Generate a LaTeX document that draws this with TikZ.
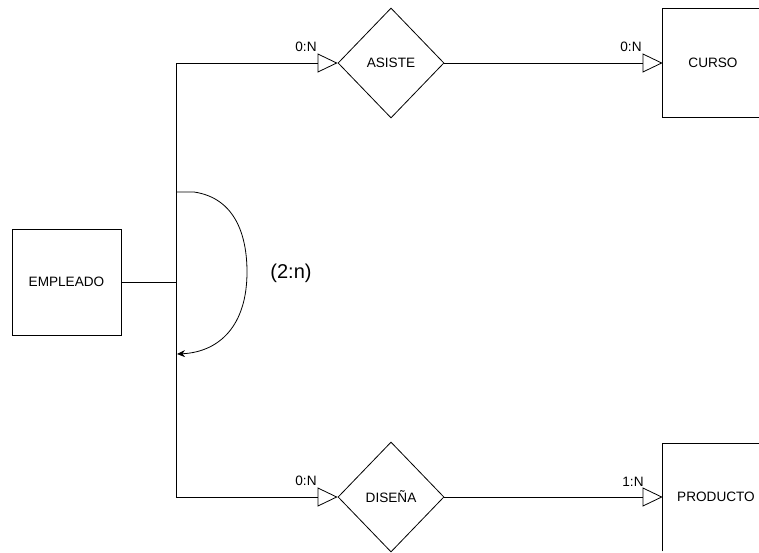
\documentclass[tikz,border=0pt]{standalone}
\usepackage{fontspec}
\setmainfont{Liberation Sans}
\usetikzlibrary{shapes.geometric,arrows.meta}

\begin{document}
\begin{tikzpicture}[x=1pt, y=-1pt, line width=.8pt,
    entidad/.style={draw, rectangle, inner sep=0pt, font=\fontsize{13.6}{16}\selectfont},
    abierta/.style={rectangle, inner sep=0pt, font=\fontsize{13.6}{16}\selectfont},
    relacion/.style={draw, diamond, inner sep=0pt, minimum width=106pt, minimum height=110pt, font=\fontsize{13.6}{16}\selectfont},
    card/.style={inner sep=0pt, font=\fontsize{13.6}{16}\selectfont},
    tri/.style={-{Triangle[open, length=20pt, width=19pt]}}]
    \useasboundingbox (0,0) rectangle (759,552);
    % entidades
    \node [entidad, minimum width=109pt, minimum height=106pt] (emp) at (66.5,282) {EMPLEADO};
    \node [abierta, minimum width=100pt, minimum height=108pt] (curso) at (713,63) {CURSO};
    \draw (curso.north east) ++(40,0) -| (curso.south west) -- ++(150,0);
    \node [abierta, minimum width=106pt, minimum height=108pt] (prod) at (716,497) {PRODUCTO};
    \draw (prod.south west) |- ++(150,-108);
    % relaciones
    \node [relacion] (asiste) at (391,63) {ASISTE};
    \node [relacion] (disena) at (391,497) {DISEÑA};
    % union
    \coordinate (jt) at (176,63);
    \coordinate (jm) at (176,282);
    \coordinate (jb) at (176,497);
    \draw (emp.east) -- (jm);
    \draw (jt) -- (jb);
    \draw [tri] (jt) -- (asiste.west);
    \draw [tri] (asiste.east) -- (curso.west);
    \draw [tri] (jb) -- (disena.west);
    \draw [tri] (disena.east) -- (prod.west);
    % cardinalidades
    \node [card] (c1) at (306,47) {0:N};
    \node [card] (c2) at (631,47) {0:N};
    \node [card] (c3) at (306,481) {0:N};
    \node [card] (c4) at (633,482) {1:N};
    % restriccion
    \coordinate (a0) at (176,192);
    \coordinate (a1) at (177,354);
    \draw [-{Stealth[length=8pt, width=7pt]}] (a0) -- ++(18,0)
        .. controls (235,198) and (247,235) .. (247,272)
        .. controls (247,325) and (220,352) .. (a1);
    \node [inner sep=0pt, font=\fontsize{20}{24}\selectfont] (rn) at (291,273) {(2:n)};
\end{tikzpicture}
\end{document}
